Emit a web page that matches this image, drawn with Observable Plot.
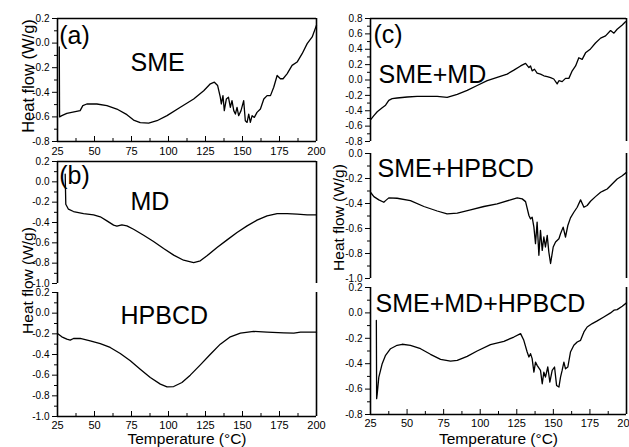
<!DOCTYPE html>
<html><head><meta charset="utf-8">
<script src="https://cdn.jsdelivr.net/npm/d3@7"></script>
<script src="https://cdn.jsdelivr.net/npm/@observablehq/plot@0.6"></script>
<style>
body{margin:0;background:#fff;}
#fig{position:relative;width:629px;height:447px;overflow:hidden;background:#fff;color:#000;font-family:"Liberation Sans",Arial,Helvetica,sans-serif;}
#fig svg{position:absolute;}
</style></head><body><div id="fig"></div>
<script>
// ---- data ----
const xDomain = [25, 200];
const xMajor = [25, 50, 75, 100, 125, 150, 175, 200];
const xMinor = [37.5, 62.5, 87.5, 112.5, 137.5, 162.5, 187.5];

const smeT = [26.2,26.4,27.9,31.3,37.0,40.3,42.1,44.8,51.6,58.4,65.1,71.9,76.4,80.9,86.6,92.2,99.0,108.0,117.0,123.8,128.3,131.0,133.2,135.0,135.7,136.8,137.7,139.1,140.5,141.8,142.9,144.1,145.2,146.3,147.4,149.0,150.8,151.9,153.1,154.2,155.3,156.5,158.0,159.8,162.1,164.4,166.6,168.9,171.1,173.4,175.6,177.4,180.1,183.5,186.9,190.3,193.7,197.1,200];
const smeV = [-0.03,-0.60,-0.59,-0.571,-0.557,-0.549,-0.508,-0.495,-0.495,-0.508,-0.536,-0.582,-0.626,-0.647,-0.650,-0.631,-0.590,-0.522,-0.454,-0.387,-0.331,-0.318,-0.345,-0.440,-0.495,-0.427,-0.549,-0.454,-0.440,-0.522,-0.468,-0.549,-0.577,-0.522,-0.590,-0.549,-0.468,-0.631,-0.645,-0.577,-0.645,-0.590,-0.604,-0.563,-0.536,-0.454,-0.427,-0.427,-0.359,-0.263,-0.290,-0.290,-0.250,-0.181,-0.154,-0.086,-0.004,0.050,0.146];

const mdT = [30.2,30.6,32.4,35.8,42.6,49.4,53.9,58.4,62.9,65.1,68.5,71.9,76.4,83.2,89.9,96.7,103.5,110.2,117.0,121.5,126.0,132.8,139.6,146.3,153.1,159.8,166.6,173.4,180.1,186.9,193.7,200];
const mdV = [0.075,-0.22,-0.269,-0.292,-0.312,-0.325,-0.344,-0.384,-0.426,-0.436,-0.423,-0.433,-0.466,-0.525,-0.587,-0.656,-0.721,-0.771,-0.794,-0.777,-0.728,-0.646,-0.571,-0.498,-0.433,-0.377,-0.334,-0.312,-0.312,-0.318,-0.325,-0.325];

const hpT = [25,27.9,31.3,33.6,35.8,40.3,47.1,53.9,60.6,67.4,74.2,80.9,87.7,94.5,99.0,103.5,109.1,114.7,121.5,128.3,135.0,141.8,148.6,157.6,166.6,177.9,184.7,189.2,200];
const hpV = [-0.197,-0.229,-0.252,-0.261,-0.245,-0.245,-0.268,-0.294,-0.332,-0.39,-0.461,-0.542,-0.623,-0.687,-0.713,-0.71,-0.671,-0.6,-0.5,-0.397,-0.3,-0.229,-0.194,-0.177,-0.184,-0.19,-0.194,-0.184,-0.184];

const smeMdT = [25,27.3,29.6,33.0,35.3,37.5,39.8,43.2,50.1,56.9,63.7,70.6,77.4,84.3,91.1,97.9,104.8,111.6,118.4,123.0,127.6,131.0,133.3,134.4,135.5,137.1,138.9,141.2,143.5,145.8,148.1,150.3,152.6,153.8,156.0,158.3,160.6,162.9,165.2,167.4,169.7,172.0,175.4,178.8,182.3,185.7,189.1,191.4,193.6,197.1,199.3];
const smeMdV = [-0.519,-0.464,-0.413,-0.362,-0.328,-0.264,-0.243,-0.234,-0.221,-0.213,-0.213,-0.213,-0.226,-0.187,-0.136,-0.072,-0.009,0.034,0.077,0.128,0.183,0.217,0.162,0.183,0.119,0.140,0.089,0.077,0.055,0.043,0.030,0.013,-0.051,-0.009,-0.021,0.021,0.021,0.119,0.183,0.289,0.268,0.353,0.404,0.481,0.545,0.574,0.643,0.609,0.660,0.715,0.757];

const smeHpT = [25,27.3,30.7,34.1,35.3,37.5,43.2,52.3,61.5,70.6,77.4,84.3,93.4,102.5,111.6,120.7,125.3,128.7,131.0,133.3,134.4,135.5,136.7,137.8,138.9,140.1,141.2,142.4,143.5,144.6,145.8,146.9,148.1,149.9,151.5,153.8,154.9,156.7,158.3,159.9,161.7,164.0,166.3,168.6,170.9,173.1,175.4,178.8,182.3,184.5,186.8,190.2,193.6,197.1,200];
const smeHpV = [-0.31,-0.345,-0.371,-0.39,-0.377,-0.355,-0.358,-0.377,-0.424,-0.46,-0.483,-0.477,-0.451,-0.424,-0.403,-0.371,-0.355,-0.363,-0.385,-0.496,-0.523,-0.509,-0.589,-0.721,-0.549,-0.814,-0.615,-0.775,-0.668,-0.748,-0.655,-0.788,-0.88,-0.748,-0.708,-0.682,-0.642,-0.589,-0.668,-0.576,-0.515,-0.47,-0.43,-0.371,-0.43,-0.416,-0.382,-0.345,-0.31,-0.297,-0.284,-0.244,-0.204,-0.178,-0.151];

const smeMdHpT = [29.0,29.2,29.6,30.7,33.0,35.3,38.7,43.2,46.7,52.3,59.2,66.0,72.9,79.7,84.3,91.1,97.9,107.0,116.2,123.0,127.6,129.8,132.1,133.3,134.4,135.5,136.7,137.8,138.9,141.2,142.4,143.5,144.6,146.2,147.6,149.2,150.8,152.2,153.8,154.9,156.0,157.2,158.3,159.9,161.7,164.0,166.3,168.6,170.9,173.1,176.6,180.0,184.5,189.1,191.4,193.6,197.1,200];
const smeMdHpV = [-0.06,-0.675,-0.637,-0.505,-0.4,-0.334,-0.282,-0.255,-0.247,-0.255,-0.282,-0.326,-0.366,-0.379,-0.374,-0.342,-0.3,-0.25,-0.224,-0.19,-0.163,-0.216,-0.308,-0.347,-0.321,-0.36,-0.466,-0.387,-0.413,-0.453,-0.558,-0.466,-0.505,-0.426,-0.545,-0.453,-0.426,-0.571,-0.584,-0.505,-0.453,-0.387,-0.44,-0.426,-0.308,-0.255,-0.229,-0.216,-0.15,-0.111,-0.084,-0.063,-0.032,0.0,0.021,0.026,0.053,0.079];

const yTicksA = [-0.8,-0.6,-0.4,-0.2,0,0.2];
const yMinorA = [-0.7,-0.5,-0.3,-0.1,0.1];
const yTicksB = [-1.0,-0.8,-0.6,-0.4,-0.2,0,0.2];
const yMinorB = [-0.9,-0.7,-0.5,-0.3,-0.1,0.1];
const yTicksC1 = [-0.8,-0.6,-0.4,-0.2,0,0.2,0.4,0.6,0.8];
const yMinorC1 = [-0.7,-0.5,-0.3,-0.1,0.1,0.3,0.5,0.7];
const yTicksC2 = [-1.0,-0.8,-0.6,-0.4,-0.2,0];
const yMinorC2 = [-0.9,-0.7,-0.5,-0.3,-0.1];

const yTitle = "Heat flow (W/g)";
const xTitle = "Temperature (°C)";

// ---- drawing ----
const FONT = '"Liberation Sans", Arial, Helvetica, sans-serif';
const fig = document.getElementById("fig");

function panel(o) {
  const n = Math.min(o.t.length, o.v.length);
  const data = d3.range(n).map(i => ({t: o.t[i], v: o.v[i]}));
  const marks = [];
  marks.push(Plot.axisY({ticks: o.yMinor, tickSize: 3, fill: "none", label: null}));
  marks.push(Plot.axisY({ticks: o.yMajor, tickSize: 5, tickPadding: 3, fontSize: 10, tickFormat: d => d.toFixed(1), label: null}));
  if (o.xAxis) {
    marks.push(Plot.axisX({ticks: xMinor, tickSize: 3, dy: -3, fill: "none", label: null}));
    marks.push(Plot.axisX({ticks: xMajor, tickSize: 5, dy: -5, fill: "none", label: null}));
    marks.push(Plot.axisX({ticks: xMajor, tickSize: 0, tickPadding: o.xPad, fontSize: 11, tickFormat: d => String(d), label: null}));
  }
  if (o.xTitleDy) {
    marks.push(Plot.text([xTitle], {frameAnchor: "bottom", dy: o.xTitleDy, lineAnchor: "bottom", fontSize: 15.5}));
  }
  const fw = 1.6;
  marks.push(Plot.ruleX([xDomain[0]], {strokeWidth: fw}));
  if (o.frame.includes("r")) marks.push(Plot.ruleX([xDomain[1]], {strokeWidth: fw}));
  if (o.frame.includes("t")) marks.push(Plot.ruleY([o.yDomain[1]], {strokeWidth: fw}));
  if (o.frame.includes("b")) marks.push(Plot.ruleY([o.yDomain[0]], {strokeWidth: fw}));
  marks.push(Plot.line(data, {x: "t", y: "v", strokeWidth: 1.3}));
  for (const l of o.labels) {
    marks.push(Plot.text([l.s], {x: l.x, y: l.y, textAnchor: "start", lineAnchor: "middle", fontSize: 25}));
  }
  if (o.yLab) {
    marks.push(Plot.text([yTitle], {frameAnchor: o.yLab.anchor, rotate: -90, dx: o.yLab.dx, dy: o.yLab.dy, textAnchor: "middle", lineAnchor: "bottom", fontSize: o.yLab.size}));
  }
  const svg = Plot.plot({
    width: o.width, height: o.height,
    marginLeft: 57, marginRight: o.mr, marginTop: o.mt, marginBottom: o.mb,
    x: o.xAxis ? {domain: xDomain, label: null} : {domain: xDomain, axis: null, label: null},
    y: {domain: o.yDomain, label: null},
    style: {fontFamily: FONT, color: "black", background: "transparent", overflow: "visible"},
    marks
  });
  svg.style.position = "absolute";
  svg.style.left = o.left + "px";
  svg.style.top = o.top + "px";
  svg.style.overflow = "visible";
  fig.appendChild(svg);
}

// left column
panel({left: 0, top: 0, width: 320, height: 160, mt: 18, mb: 19, mr: 4,
  yDomain: [-0.8, 0.2], yMajor: yTicksA, yMinor: yMinorA, t: smeT, v: smeV,
  frame: "trb", xAxis: true, xPad: 6,
  labels: [{s: "(a)", x: 26.2, y: 0.054}, {s: "SME", x: 74.3, y: -0.158}],
  yLab: {anchor: "left", dx: -24, dy: -4, size: 16.5}});
panel({left: 0, top: 150, width: 320, height: 140, mt: 11, mb: 7, mr: 4,
  yDomain: [-1.0, 0.2], yMajor: yTicksB, yMinor: yMinorB, t: mdT, v: mdV,
  frame: "tr", xAxis: false,
  labels: [{s: "(b)", x: 26.2, y: 0.062}, {s: "MD", x: 74.3, y: -0.203}],
  yLab: {anchor: "bottom-left", dx: -25, dy: -3, size: 15.5}});
panel({left: 0, top: 285, width: 320, height: 162, mt: 7, mb: 31, mr: 4,
  yDomain: [-1.0, 0.2], yMajor: yTicksB, yMinor: yMinorB, t: hpT, v: hpV,
  frame: "rb", xAxis: true, xPad: 5, xTitleDy: 27,
  labels: [{s: "HPBCD", x: 67.6, y: -0.024}]});

// right column
panel({left: 313, top: 0, width: 316, height: 150, mt: 18, mb: 9, mr: 3,
  yDomain: [-0.8, 0.8], yMajor: yTicksC1, yMinor: yMinorC1, t: smeMdT, v: smeMdV,
  frame: "tr", xAxis: false,
  labels: [{s: "(c)", x: 27.0, y: 0.579}, {s: "SME+MD", x: 30.5, y: 0.059}]});
panel({left: 313, top: 145, width: 316, height: 140, mt: 8, mb: 7, mr: 3,
  yDomain: [-1.0, 0.0], yMajor: yTicksC2, yMinor: yMinorC2, t: smeHpT, v: smeHpV,
  frame: "r", xAxis: false,
  labels: [{s: "SME+HPBCD", x: 29.8, y: -0.12}],
  yLab: {anchor: "left", dx: -27, dy: 1.5, size: 15.5}});
panel({left: 313, top: 280, width: 316, height: 167, mt: 7, mb: 33, mr: 3,
  yDomain: [-0.8, 0.2], yMajor: yTicksA, yMinor: yMinorA, t: smeMdHpT, v: smeMdHpV,
  frame: "rb", xAxis: true, xPad: 5, xTitleDy: 29,
  labels: [{s: "SME+MD+HPBCD", x: 28.4, y: 0.074}]});
</script>
</body></html>
